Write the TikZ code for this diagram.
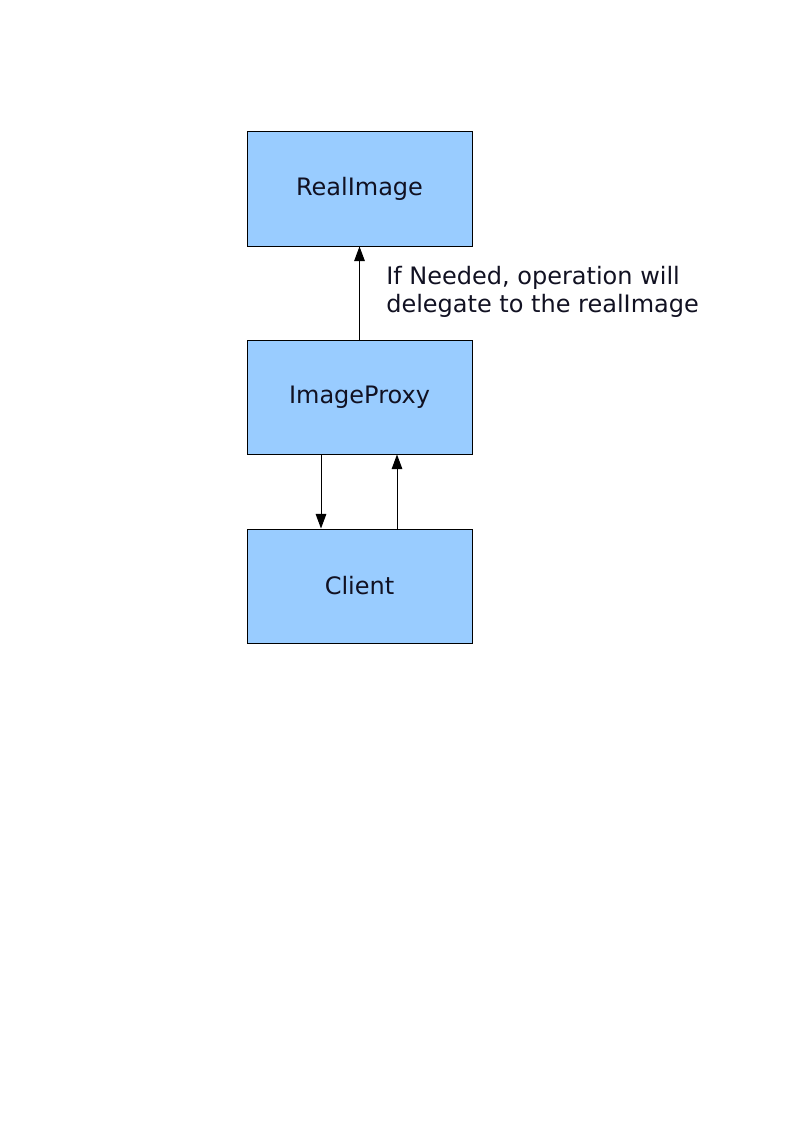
\documentclass[tikz,border=0pt]{standalone}
\usepackage{fontspec}
\setmainfont{DejaVu Sans}
\usetikzlibrary{arrows.meta}
\begin{document}
\begin{tikzpicture}[x=0.75pt,y=-0.75pt,
  box/.style={draw=black,line width=0.75pt,fill=boxblue,minimum width=225*0.75pt,minimum height=114*0.75pt,inner sep=0pt,text=textdark,font=\fontsize{18pt}{21pt}\selectfont},
  conn/.style={line width=0.75pt,-{Triangle[width=8pt,length=11pt]}},
  lbl/.style={font=\fontsize{18pt}{21pt}\selectfont,text=textdark,align=left,anchor=north west,inner sep=0pt}]
\definecolor{boxblue}{HTML}{99CCFF}
\definecolor{textdark}{HTML}{111122}
\useasboundingbox (0,0) rectangle (794,1123);
\node[box] (real) at (359.5,189) {RealImage};
\node[box] (proxy) at (359.5,397) {ImageProxy};
\node[box] (client) at (359.5,586) {Client};
\draw[conn] (proxy.north) -- (real.south);
\draw[conn] (proxy.south -| 321,0) -- (client.north -| 321,0);
\draw[conn] (client.north -| 397,0) -- (proxy.south -| 397,0);
\node[lbl] (note) at (386,265.5) {If Needed, operation will\\delegate to the realImage};
\end{tikzpicture}
\end{document}
